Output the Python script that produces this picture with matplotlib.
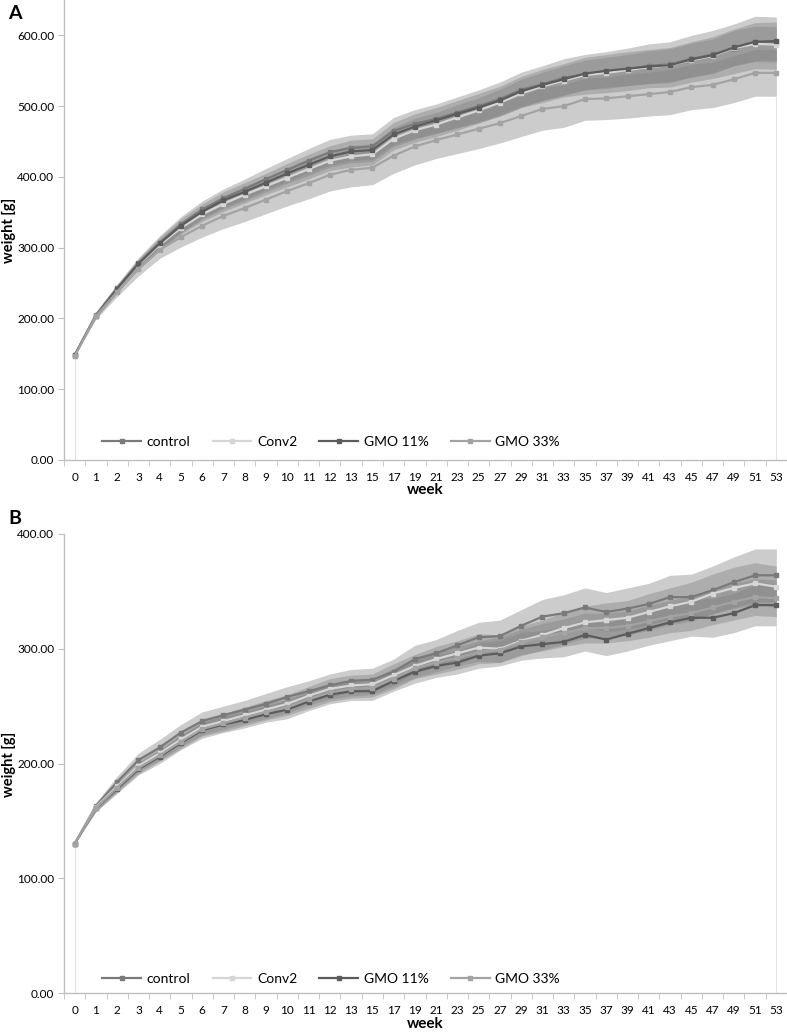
import numpy as np
import matplotlib
matplotlib.use("Agg")
import matplotlib.pyplot as plt
from matplotlib.ticker import FixedLocator, FormatStrFormatter

plt.rcParams['font.family'] = ['Lato', 'DejaVu Sans']

weeks = list(range(14)) + [15] + list(range(17, 54, 2))
groups = ["control", "Conv2", "GMO 11%", "GMO 33%"]

# panel A, mean weight [g]
a_control = [148, 205, 243, 278, 307, 333, 354, 370, 383, 397, 410, 423, 435, 441, 443,
             465, 475, 482, 491, 500, 510, 523, 531, 540, 545, 548, 552, 557, 559, 567, 573, 581, 590, 589]
a_conv2 = [147, 204, 241, 276, 304, 328, 347, 362, 375, 387, 399, 411, 423, 429, 432,
           454, 466, 474, 484, 494, 505, 518, 528, 536, 544, 547, 551, 555, 558, 565, 571, 582, 588, 587]
a_gmo11 = [148, 204, 242, 277, 306, 331, 351, 367, 379, 392, 405, 417, 429, 436, 438,
           460, 471, 480, 489, 498, 508, 521, 530, 538, 546, 550, 553, 556, 558, 566, 572, 583, 591, 592]
a_gmo33 = [147, 203, 238, 270, 297, 315, 331, 345, 356, 368, 380, 391, 403, 410, 413,
           430, 443, 452, 460, 468, 476, 486, 496, 500, 510, 511, 514, 517, 520, 527, 530, 538, 547, 547]
# panel A, SD
sd_a_control = [0, 4, 6, 8, 10, 11, 12, 13, 14, 15, 16, 17, 18, 18, 18,
                19, 20, 21, 22, 23, 24, 25, 26, 27, 28, 29, 30, 31, 32, 33, 34, 35, 37, 37]
sd_a_conv2 = [0, 3, 5, 7, 8, 9, 10, 11, 12, 12, 13, 14, 14, 15, 15,
              16, 17, 17, 18, 18, 19, 20, 20, 21, 21, 22, 22, 23, 23, 24, 24, 25, 25, 25]
sd_a_gmo11 = [0, 3, 5, 7, 9, 10, 11, 12, 13, 13, 14, 15, 15, 16, 16,
              17, 18, 18, 19, 20, 20, 21, 22, 22, 23, 23, 24, 24, 25, 25, 26, 26, 27, 27]
sd_a_gmo33 = [0, 4, 7, 10, 12, 14, 16, 18, 19, 20, 21, 22, 23, 24, 24,
              25, 26, 26, 27, 28, 28, 29, 30, 30, 30, 30, 31, 31, 32, 32, 32, 33, 33, 33]

# panel B, mean weight [g]
b_control = [130, 163, 184, 203, 214, 227, 237, 242, 247, 252, 258, 263, 268, 272, 273,
             280, 291, 296, 303, 310, 311, 320, 328, 331, 336, 332, 335, 339, 345, 345, 351, 358, 364, 364]
b_conv2 = [130, 162, 180, 198, 209, 221, 232, 237, 242, 247, 252, 259, 265, 268, 269,
           277, 285, 291, 296, 301, 300, 307, 312, 318, 323, 325, 327, 332, 337, 341, 348, 353, 357, 354]
b_gmo11 = [130, 161, 178, 195, 206, 218, 229, 234, 238, 243, 247, 254, 260, 263, 263,
           272, 280, 285, 288, 294, 296, 302, 304, 306, 312, 308, 313, 318, 323, 327, 327, 331, 338, 338]
b_gmo33 = [130, 161, 179, 196, 207, 219, 230, 235, 240, 245, 249, 256, 262, 265, 266,
           274, 283, 288, 292, 297, 299, 306, 310, 314, 318, 318, 320, 324, 328, 331, 336, 341, 345, 344]
# panel B, SD
sd_b_control = [0, 3, 5, 6, 7, 7, 8, 8, 8, 9, 9, 9, 10, 10, 10,
                11, 12, 12, 13, 13, 14, 14, 15, 16, 17, 17, 18, 18, 19, 20, 21, 22, 23, 23]
sd_b_conv2 = [0, 3, 4, 5, 6, 6, 7, 7, 7, 8, 8, 8, 9, 9, 9,
              10, 10, 11, 11, 12, 12, 13, 13, 14, 14, 15, 15, 16, 16, 17, 17, 18, 18, 18]
sd_b_gmo11 = [0, 3, 4, 5, 6, 6, 7, 7, 7, 7, 8, 8, 8, 8, 8,
              9, 10, 10, 10, 11, 11, 12, 12, 13, 14, 14, 15, 15, 16, 16, 17, 17, 18, 18]
sd_b_gmo33 = [0, 3, 4, 5, 5, 6, 6, 7, 7, 7, 7, 8, 8, 8, 8,
              9, 9, 10, 10, 10, 11, 11, 12, 12, 13, 13, 13, 14, 14, 15, 15, 16, 16, 16]

line_colors = ["#7a7a7a", "#d6d6d6", "#5c5c5c", "#a3a3a3"]
AXIS_GREY = "#bfbfbf"
W, H = 787.0, 1034.0


def panel(ax, means, sds, ymax, yticks, leg_y):
    x = np.arange(len(weeks))
    for m, s in zip(means, sds):
        m = np.array(m, float)
        s = np.array(s, float)
        ax.fill_between(x, m - s, m + s, color="#808080", alpha=0.4, lw=0, zorder=1)
    lows = [np.array(m) - np.array(s) for m, s in zip(means, sds)]
    low = np.min(lows, axis=0)
    ax.vlines([x[0], x[-1]], 0, [low[0], low[-1]], color="#e2e2e2", lw=0.8, zorder=1)
    for m, c, name in zip(means, line_colors, groups):
        ax.plot(x, m, color=c, lw=1.6, marker="s", ms=3.2, mec=c, mfc=c,
                label=name, zorder=3)

    ax.set_xlim(-0.5, len(weeks) - 0.5)
    ax.set_ylim(0, ymax)
    ax.set_xticks(x)
    ax.set_xticklabels([str(w) for w in weeks])
    ax.xaxis.set_minor_locator(FixedLocator(np.arange(-0.5, len(weeks), 1.0)))
    ax.tick_params(axis="x", which="major", length=0, pad=9, labelsize=8.5)
    ax.tick_params(axis="x", which="minor", length=4, color=AXIS_GREY)
    ax.set_yticks(yticks)
    ax.yaxis.set_major_formatter(FormatStrFormatter("%.2f"))
    ax.tick_params(axis="y", length=4, color=AXIS_GREY, pad=3, labelsize=8.5)
    for sp in ["top", "right"]:
        ax.spines[sp].set_visible(False)
    for sp in ["left", "bottom"]:
        ax.spines[sp].set_color(AXIS_GREY)
        ax.spines[sp].set_linewidth(1.0)
    ax.set_xlabel("week", fontweight="bold", fontsize=11, labelpad=0)
    ax.legend(loc="lower left", bbox_to_anchor=(0.045, leg_y - 0.03), ncol=4, frameon=False,
              fontsize=10, handlelength=2.8, columnspacing=1.6, handletextpad=0.4,
              borderaxespad=0)


fig = plt.figure(figsize=(7.87, 10.34), dpi=100)
axA = fig.add_axes([64 / W, 1 - 460 / H, 1 - 64 / W, 460 / H])
axB = fig.add_axes([64 / W, 1 - 993 / H, 1 - 64 / W, (993 - 534) / H])

panel(axA, [a_control, a_conv2, a_gmo11, a_gmo33],
      [sd_a_control, sd_a_conv2, sd_a_gmo11, sd_a_gmo33], 650, range(0, 700, 100), 0.045)
panel(axB, [b_control, b_conv2, b_gmo11, b_gmo33],
      [sd_b_control, sd_b_conv2, sd_b_gmo11, sd_b_gmo33], 400, range(0, 500, 100), 0.035)

fig.text(9 / W, 1 - 230 / H, "weight [g]", rotation=90, fontweight="bold", fontsize=10.5,
         ha="center", va="center")
fig.text(9 / W, 1 - 764 / H, "weight [g]", rotation=90, fontweight="bold", fontsize=10.5,
         ha="center", va="center")
fig.text(8 / W, 1 - 19 / H, "A", fontsize=14, fontweight="bold")
fig.text(8 / W, 1 - 524 / H, "B", fontsize=14, fontweight="bold")

fig.savefig("out.png", dpi=100)
